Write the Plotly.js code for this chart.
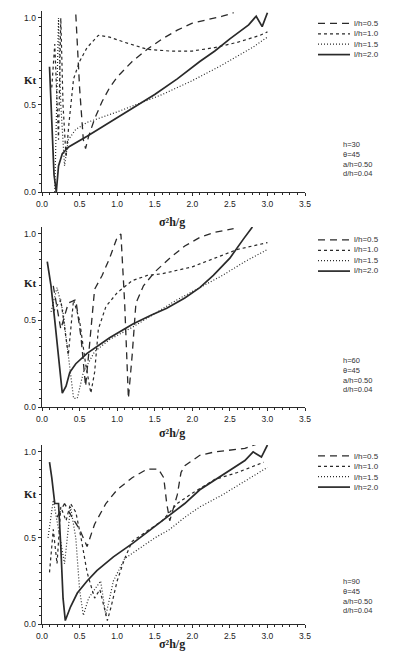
<!DOCTYPE html>
<html><head><meta charset="utf-8">
<script src="https://cdn.plot.ly/plotly-3.0.1.min.js"></script>
<style>html,body{margin:0;padding:0;background:#fff}#plot{width:397px;height:662px}</style>
</head><body><div id="plot"></div>
<script>
// ---- Data ----
const seriesNames = ["l/h=0.5", "l/h=1.0", "l/h=1.5", "l/h=2.0"];
const xTicks = [0.0, 0.5, 1.0, 1.5, 2.0, 2.5, 3.0, 3.5];
const yTicks = [0.0, 0.5, 1.0];
const yTitle = "Kt";
const xTitle = "σ²h/g";
const paramText1 = ["h=30", "θ=45", "a/h=0.50", "d/h=0.04"];
const paramText2 = ["h=60", "θ=45", "a/h=0.50", "d/h=0.04"];
const paramText3 = ["h=90", "θ=45", "a/h=0.50", "d/h=0.04"];

// Panel 1
const p1_x05 = [0.45,0.5,0.55,0.58,0.62,0.7,0.8,0.9,1.0,1.2,1.4,1.6,1.8,2.0,2.2,2.4,2.55];
const p1_y05 = [1.02,0.6,0.3,0.25,0.32,0.42,0.52,0.6,0.66,0.75,0.82,0.88,0.93,0.97,0.99,1.01,1.03];
const p1_x10 = [0.13,0.17,0.22,0.25,0.28,0.32,0.36,0.42,0.5,0.6,0.75,0.9,1.1,1.4,1.7,2.0,2.3,2.6,2.9,3.0];
const p1_y10 = [0.6,0.85,0.3,1.0,0.5,0.2,0.4,0.65,0.75,0.83,0.9,0.89,0.86,0.82,0.81,0.81,0.83,0.86,0.9,0.92];
const p1_x15 = [0.17,0.2,0.22,0.25,0.3,0.35,0.45,0.6,0.8,1.0,1.3,1.6,2.0,2.4,2.8,3.0];
const p1_y15 = [0.0,0.6,1.0,0.5,0.15,0.3,0.36,0.40,0.43,0.46,0.51,0.56,0.64,0.73,0.83,0.89];
const p1_x20 = [0.10,0.12,0.14,0.16,0.19,0.22,0.27,0.36,0.6,0.9,1.2,1.5,1.8,2.1,2.3,2.5,2.75,2.85,2.93,3.0];
const p1_y20 = [0.72,0.50,0.25,0.10,0.0,0.15,0.22,0.26,0.32,0.40,0.48,0.56,0.65,0.75,0.81,0.88,0.96,1.01,0.95,1.03];

// Panel 2
const p2_x05 = [0.15,0.25,0.35,0.45,0.52,0.58,0.62,0.7,0.8,0.9,1.0,1.05,1.1,1.15,1.2,1.25,1.35,1.5,1.7,1.9,2.1,2.3,2.55];
const p2_y05 = [0.7,0.45,0.6,0.62,0.4,0.12,0.3,0.68,0.76,0.86,0.98,1.0,0.6,0.05,0.3,0.6,0.7,0.78,0.86,0.93,0.98,1.01,1.03];
const p2_x10 = [0.15,0.25,0.35,0.42,0.5,0.58,0.65,0.7,0.75,0.85,1.0,1.2,1.4,1.6,1.8,2.0,2.3,2.6,2.9,3.0];
const p2_y10 = [0.55,0.62,0.3,0.62,0.5,0.25,0.08,0.2,0.45,0.58,0.66,0.73,0.76,0.77,0.79,0.81,0.86,0.91,0.94,0.95];
const p2_x15 = [0.12,0.2,0.28,0.35,0.42,0.47,0.55,0.7,0.9,1.2,1.5,1.8,2.1,2.4,2.7,3.0];
const p2_y15 = [0.55,0.69,0.55,0.3,0.05,0.05,0.2,0.32,0.39,0.46,0.54,0.62,0.69,0.76,0.84,0.91];
const p2_x20 = [0.07,0.12,0.17,0.22,0.27,0.32,0.37,0.45,0.6,0.9,1.21,1.45,1.66,1.9,2.1,2.28,2.5,2.68,2.8];
const p2_y20 = [0.84,0.7,0.5,0.3,0.08,0.12,0.2,0.25,0.31,0.40,0.48,0.53,0.57,0.63,0.69,0.76,0.86,0.97,1.04];

// Panel 3
const p3_x05 = [0.2,0.3,0.4,0.5,0.6,0.7,0.85,1.0,1.2,1.4,1.55,1.62,1.66,1.7,1.8,1.85,1.9,2.1,2.3,2.5,2.7,2.95];
const p3_y05 = [0.62,0.7,0.62,0.55,0.45,0.58,0.7,0.78,0.85,0.9,0.9,0.85,0.7,0.6,0.75,0.88,0.92,0.98,1.0,1.01,1.02,1.06];
const p3_x10 = [0.1,0.15,0.2,0.25,0.32,0.38,0.45,0.52,0.6,0.7,0.77,0.82,0.87,0.92,1.0,1.1,1.2,1.4,1.6,1.8,2.0,2.3,2.6,2.95];
const p3_y10 = [0.3,0.55,0.35,0.68,0.6,0.7,0.65,0.5,0.3,0.15,0.2,0.1,0.02,0.1,0.25,0.38,0.48,0.54,0.6,0.7,0.76,0.84,0.88,0.94];
const p3_x15 = [0.08,0.15,0.22,0.3,0.38,0.45,0.5,0.55,0.62,0.7,0.78,0.85,0.95,1.1,1.3,1.5,1.7,1.9,2.1,2.4,2.7,3.0];
const p3_y15 = [0.5,0.72,0.55,0.35,0.68,0.5,0.2,0.05,0.15,0.2,0.25,0.05,0.25,0.38,0.44,0.5,0.55,0.62,0.68,0.75,0.83,0.91];
const p3_x20 = [0.10,0.13,0.17,0.22,0.25,0.28,0.31,0.38,0.47,0.6,0.73,0.95,1.21,1.45,1.66,1.9,2.1,2.28,2.5,2.7,2.81,2.92,3.0];
const p3_y20 = [0.94,0.85,0.7,0.7,0.45,0.15,0.02,0.1,0.18,0.25,0.31,0.39,0.47,0.55,0.62,0.70,0.78,0.83,0.89,0.95,1.0,0.97,1.04];

// ---- Styles ----
const INK = "#2a2a2a";
const styles = [
  {dash: "7px,5px", width: 1.3},
  {dash: "3px,3px", width: 1.2},
  {dash: "1px,2px", width: 1.2},
  {dash: "solid", width: 1.7}
];
const W = 397, H = 662;
const X = px => px / W;
const Y = py => 1 - py / H;
const SANS = "Liberation Sans, Arial, sans-serif";
const SERIF = "Liberation Serif, serif";
const LEG_FONT = 8, PAR_FONT = 7.5;

const panels = [
  {xs: [p1_x05,p1_x10,p1_x15,p1_x20], ys: [p1_y05,p1_y10,p1_y15,p1_y20], top: 11, bot: 192, legMid: 39, parMid: 158.5, ktY: 72, xtY: 214, params: paramText1},
  {xs: [p2_x05,p2_x10,p2_x15,p2_x20], ys: [p2_y05,p2_y10,p2_y15,p2_y20], top: 227, bot: 407, legMid: 255.5, parMid: 375, ktY: 283, xtY: 433, params: paramText2},
  {xs: [p3_x05,p3_x10,p3_x15,p3_x20], ys: [p3_y05,p3_y10,p3_y15,p3_y20], top: 445, bot: 624, legMid: 471.5, parMid: 595.5, ktY: 502, xtY: 652, params: paramText3}
];

const traces = [];
const layout = {
  width: W, height: H, margin: {l:0, r:0, t:0, b:0},
  paper_bgcolor: "#fff", plot_bgcolor: "rgba(0,0,0,0)",
  showlegend: false, shapes: [], annotations: [],
  font: {family: SANS, size: 9, color: "#222"}
};
const xDom = [X(42), X(305)];

panels.forEach((p, i) => {
  const n = i + 1;
  const xa = n === 1 ? "x" : "x" + n, ya = n === 1 ? "y" : "y" + n;
  p.xs.forEach((xv, k) => {
    traces.push({x: xv, y: p.ys[k], xaxis: xa, yaxis: ya, type: "scatter", mode: "lines",
      name: seriesNames[k], line: {color: INK, width: styles[k].width, dash: styles[k].dash}, cliponaxis: true});
  });
  const axCommon = {showgrid: false, zeroline: false, showline: true, linecolor: INK, linewidth: 1.4,
    ticks: "outside", ticklen: 3, tickcolor: INK, tickwidth: 1,
    tickfont: {family: SANS, size: 8.5, color: "#222"}, fixedrange: true};
  layout["xaxis" + (n === 1 ? "" : n)] = Object.assign({}, axCommon, {
    domain: xDom, range: [0, 3.5], anchor: ya, tickvals: xTicks, ticktext: xTicks.map(v => v.toFixed(1)),
    minor: {dtick: 0.1, ticks: "outside", ticklen: 2, tickcolor: INK}
  });
  layout["yaxis" + (n === 1 ? "" : n)] = Object.assign({}, axCommon, {
    domain: [Y(p.bot), Y(p.top)], range: [0, 1.04], anchor: xa, tickvals: yTicks, ticktext: yTicks.map(v => v.toFixed(1)),
    minor: {dtick: 0.05, ticks: "outside", ticklen: 2, tickcolor: INK}
  });
  layout.annotations.push({xref: "paper", yref: "paper", x: X(22), y: Y(p.ktY), text: yTitle, showarrow: false,
    font: {family: SERIF, size: 11, color: "#222", weight: 700}});
  layout.annotations.push({xref: "paper", yref: "paper", x: X(172), y: Y(p.xtY), text: xTitle, showarrow: false,
    borderpad: 0, font: {family: SERIF, size: 12, color: "#222", weight: 700}});
  const lh = LEG_FONT * 1.3;
  seriesNames.forEach((nm, k) => {
    const ry = p.legMid + (k - 1.5) * lh;
    layout.shapes.push({type: "line", xref: "paper", yref: "paper", x0: X(318), x1: X(350), y0: Y(ry), y1: Y(ry),
      line: {color: INK, width: styles[k].width, dash: styles[k].dash}});
  });
  layout.annotations.push({xref: "paper", yref: "paper", x: X(353), y: Y(p.legMid), xanchor: "left", yanchor: "middle",
    align: "left", text: seriesNames.join("<br>"), showarrow: false, borderpad: 0,
    font: {family: SANS, size: LEG_FONT, color: "#333"}});
  layout.annotations.push({xref: "paper", yref: "paper", x: X(342), y: Y(p.parMid), xanchor: "left", yanchor: "middle",
    align: "left", text: p.params.join("<br>"), showarrow: false, borderpad: 0,
    font: {family: SANS, size: PAR_FONT, color: "#333"}});
});

Plotly.newPlot("plot", traces, layout, {staticPlot: true, displayModeBar: false});
</script></body></html>
